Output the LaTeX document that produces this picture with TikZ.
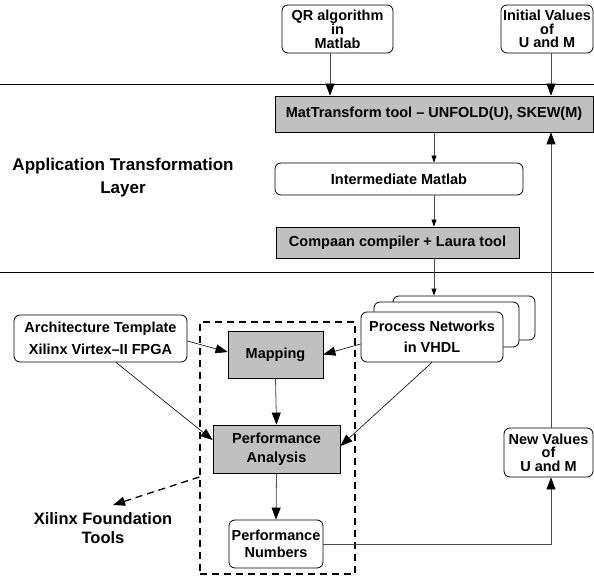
\documentclass[tikz,border=0pt]{standalone}
\usepackage{fontspec}
\setmainfont{Liberation Sans}
\usetikzlibrary{arrows.meta}
\definecolor{boxgray}{RGB}{192,192,192}
\begin{document}
\begin{tikzpicture}[x=1pt,y=-1pt,
  box/.style={draw, line width=0.8pt, align=center, inner sep=0pt,
    font=\bfseries\fontsize{14.5}{13.5}\selectfont},
  rbox/.style={box, rounded corners=6pt, fill=white},
  gbox/.style={box, fill=boxgray},
  conn/.style={line width=0.8pt, draw=black!70},
  arr/.style={conn, -{Triangle[length=12pt,width=9pt,black]}},
  sarr/.style={conn, -{Triangle[length=7pt,width=5pt,black]}},
  lbl/.style={font=\bfseries\fontsize{16.5}{19}\selectfont, align=center}]
\useasboundingbox (0,0) rectangle (594,577);

% layer separators
\draw[line width=0.8pt] (0,84) -- (594,84);
\draw[line width=0.8pt] (0,272) -- (594,272);

% layer labels
\node[lbl, font=\bfseries\fontsize{17}{23}\selectfont] (atl) at (123,178) {Application Transformation\\Layer};
\node[lbl] (xft) at (103,528) {Xilinx Foundation\\Tools};
\coordinate (xftip) at (113,505);

% inputs
\node[rbox, minimum width=111pt, minimum height=48pt] (qr) at (337.5,29) {QR algorithm\\in\\Matlab};
\node[rbox, minimum width=92pt, minimum height=48pt] (init) at (547,29) {Initial Values\\of\\U and M};

% transformation chain
\node[gbox, minimum width=318pt, minimum height=36pt] (mat) at (434,114) {MatTransform tool -- UNFOLD(U), SKEW(M)};
\node[rbox, minimum width=248pt, minimum height=32pt] (inter) at (399,179) {Intermediate Matlab};
\node[gbox, minimum width=243pt, minimum height=31pt] (comp) at (397.5,242.5) {Compaan compiler + Laura tool};

% stacked process networks
\node[rbox, minimum width=142pt, minimum height=44pt] (pnback) at (464,318) {};
\node[rbox, minimum width=145pt, minimum height=45pt] (pnmid) at (446.5,324.5) {};
\node[rbox, minimum width=142pt, minimum height=50pt,
  font=\bfseries\fontsize{14.5}{21}\selectfont] (pn) at (432,337) {Process Networks\\in VHDL};

% architecture
\node[rbox, minimum width=173pt, minimum height=47pt,
  font=\bfseries\fontsize{14.5}{22}\selectfont] (arch) at (100.5,338.5) {Architecture Template\\Xilinx Virtex--II FPGA};

% exploration group
\node[draw, dash pattern=on 7pt off 5pt, line width=1.3pt, minimum width=155pt,
  minimum height=252pt, inner sep=0pt] (grp) at (277.5,448) {};
\node[gbox, minimum width=95pt, minimum height=47pt] (map) at (275.5,354.5) {Mapping};
\node[gbox, minimum width=127pt, minimum height=48pt,
  font=\bfseries\fontsize{14.5}{19}\selectfont] (pa) at (276.5,449) {Performance\\Analysis};
\node[rbox, minimum width=94pt, minimum height=48pt,
  font=\bfseries\fontsize{14.5}{17}\selectfont] (pnum) at (276,544) {Performance\\Numbers};

% feedback
\node[rbox, minimum width=89pt, minimum height=49pt] (newv) at (548.5,452.5) {New Values\\of\\U and M};

% connectors
\draw[arr] (qr.south -| 330,0) -- (mat.north -| 330,0);
\draw[arr] (init.south -| 551,0) -- (mat.north -| 551,0);
\draw[sarr] (mat.south -| 434,0) -- (inter.north -| 434,0);
\draw[sarr] (inter.south -| 434,0) -- (comp.north -| 434,0);
\draw[sarr] (comp.south -| 434,0) -- (pnback.north -| 434,0);
\draw[arr] (newv.north -| 551,0) -- (mat.south -| 551,0);
\draw[arr] (pnum.east) -| (newv.south -| 551,0);
\draw[arr, draw=black, line width=0.6pt] ([yshift=-2.5pt]arch.east) -- ([yshift=2.5pt]map.west);
\draw[arr, draw=black, line width=0.6pt] ([xshift=15.5pt]arch.south) -- ([yshift=9pt]pa.west);
\draw[arr, draw=black, line width=0.6pt] ([yshift=-7pt]pn.west) -- (map.east);
\draw[arr, draw=black, line width=0.6pt] (pn.south) -- ([yshift=3pt]pa.east);
\draw[arr] (map.south) -- (pa.north);
\draw[arr] (pa.south) -- (pnum.north);
\draw[arr, draw=black, line width=1.3pt, dash pattern=on 7pt off 5pt] (grp.west |- 0,477) -- (xftip);
\end{tikzpicture}
\end{document}
